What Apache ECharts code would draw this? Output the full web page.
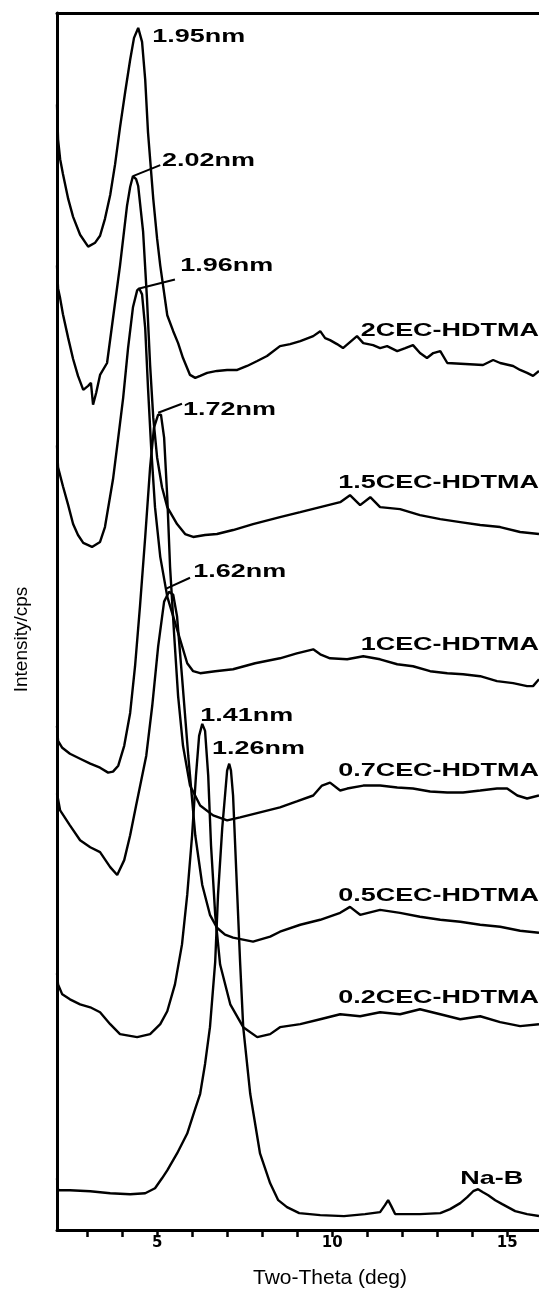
<!DOCTYPE html>
<html><head><meta charset="utf-8">
<script src="https://cdn.jsdelivr.net/npm/echarts@6/dist/echarts.min.js"></script>
<style>html,body{margin:0;padding:0;background:#fff}#c{width:539px;height:1294px}</style>
</head><body><div id="c"></div>
<script>
// x ticks (deg) and labelled ticks
const xTicks = [3,4,5,6,7,8,9,10,11,12,13,14,15];
const xTickLabels = [5,10,15];

// Curves: [two-theta (deg), intensity (a.u., stacked offsets)]
const cec2 = [[2.14,1132],[2.17,1097],[2.23,1077],[2.31,1062],[2.46,1037],[2.60,1019],[2.80,1001],[3.03,989],[3.23,993],[3.37,1000],[3.51,1017],[3.66,1041],[3.80,1072],[3.94,1109],[4.09,1145],[4.23,1177],[4.34,1199],[4.46,1209],[4.57,1195],[4.66,1157],[4.74,1104],[4.89,1037],[5.00,997],[5.09,970],[5.29,920],[5.46,904],[5.60,892],[5.74,877],[5.94,860],[6.09,857],[6.23,859],[6.43,862],[6.71,864],[7.00,865],[7.29,865],[7.57,869],[7.86,874],[8.14,879],[8.51,889],[8.80,891],[9.09,894],[9.46,899],[9.66,904],[9.80,897],[9.94,895],[10.14,891],[10.31,887],[10.51,893],[10.71,899],[10.89,892],[11.17,890],[11.37,887],[11.57,889],[11.86,884],[12.09,887],[12.31,890],[12.51,882],[12.71,877],[12.89,882],[13.09,884],[13.29,872],[14.31,870],[14.60,875],[14.80,872],[15.17,869],[15.37,865],[15.57,862],[15.74,859],[15.91,864]];
const cec15 = [[2.14,970],[2.17,947],[2.23,937],[2.31,921],[2.46,897],[2.60,876],[2.74,859],[2.89,845],[3.03,849],[3.11,852],[3.17,830],[3.26,842],[3.37,860],[3.57,872],[3.74,917],[3.94,970],[4.14,1030],[4.23,1049],[4.31,1060],[4.40,1057],[4.46,1050],[4.60,1004],[4.71,937],[4.80,870],[4.89,817],[5.00,777],[5.14,747],[5.29,727],[5.57,710],[5.80,700],[6.03,697],[6.37,699],[6.71,700],[7.17,704],[7.74,710],[8.51,717],[9.09,722],[9.66,727],[10.23,732],[10.51,739],[10.80,729],[11.09,737],[11.37,727],[11.94,725],[12.51,719],[13.09,715],[13.66,712],[14.23,709],[14.80,707],[15.37,702],[15.91,700]];
const cec1 = [[2.14,789],[2.17,767],[2.31,748],[2.46,729],[2.60,710],[2.74,699],[2.89,691],[3.14,687],[3.37,692],[3.51,707],[3.74,755],[3.89,797],[4.03,837],[4.17,887],[4.31,928],[4.43,945],[4.49,947],[4.57,941],[4.66,907],[4.74,847],[4.83,787],[4.94,727],[5.09,677],[5.29,637],[5.57,604],[5.86,570],[6.03,562],[6.23,560],[6.66,562],[7.17,564],[7.80,570],[8.51,575],[8.99,580],[9.46,584],[9.66,579],[9.94,575],[10.43,574],[10.89,577],[11.37,574],[11.86,569],[12.31,567],[12.80,562],[13.29,560],[13.74,559],[14.23,557],[14.71,552],[15.17,550],[15.57,547],[15.74,547],[15.91,554]];
const cec07 = [[2.14,507],[2.17,492],[2.29,485],[2.51,479],[2.80,474],[3.09,469],[3.37,465],[3.60,460],[3.74,461],[3.89,467],[4.06,487],[4.23,520],[4.37,567],[4.51,627],[4.66,697],[4.80,767],[4.91,807],[5.03,820],[5.11,820],[5.20,797],[5.29,737],[5.37,667],[5.49,597],[5.60,537],[5.74,487],[5.94,447],[6.23,427],[6.60,417],[7.00,412],[7.37,415],[7.94,420],[8.51,425],[8.99,431],[9.46,437],[9.71,447],[9.94,450],[10.23,442],[10.43,444],[10.89,447],[11.37,447],[11.86,445],[12.31,444],[12.80,441],[13.29,440],[13.74,440],[14.23,442],[14.71,444],[15.00,444],[15.29,437],[15.57,434],[15.91,437]];
const cec05 = [[2.14,439],[2.23,422],[2.51,407],[2.80,392],[3.09,385],[3.37,380],[3.66,365],[3.86,357],[4.06,372],[4.23,397],[4.40,427],[4.69,477],[4.86,527],[5.03,587],[5.20,632],[5.34,642],[5.46,639],[5.57,617],[5.71,557],[5.89,477],[6.09,397],[6.29,347],[6.51,317],[6.71,304],[6.94,297],[7.17,294],[7.74,290],[8.23,295],[8.51,300],[9.09,307],[9.66,312],[10.23,319],[10.51,325],[10.80,317],[11.37,322],[11.94,319],[12.51,315],[13.09,312],[13.66,310],[14.23,307],[14.80,305],[15.37,301],[15.91,299]];
const cec02 = [[2.14,258],[2.17,247],[2.29,237],[2.51,232],[2.80,227],[3.09,224],[3.37,219],[3.66,207],[3.94,197],[4.43,194],[4.80,197],[5.09,207],[5.29,220],[5.51,247],[5.71,287],[5.86,337],[6.00,397],[6.11,457],[6.20,497],[6.29,509],[6.37,502],[6.46,457],[6.54,387],[6.66,317],[6.80,267],[7.09,227],[7.46,204],[7.86,194],[8.23,197],[8.51,204],[9.09,207],[9.66,212],[10.23,217],[10.80,215],[11.37,219],[11.94,217],[12.51,222],[13.09,217],[13.66,212],[14.23,215],[14.80,209],[15.37,205],[15.91,207]];
const naB = [[2.14,52],[2.17,40],[2.51,40],[3.09,39],[3.66,37],[4.23,36],[4.66,37],[4.94,42],[5.14,52],[5.29,60],[5.57,77],[5.86,97],[6.09,122],[6.23,137],[6.37,167],[6.51,204],[6.66,270],[6.74,337],[6.86,404],[6.94,437],[7.00,462],[7.06,469],[7.11,462],[7.17,437],[7.29,337],[7.37,270],[7.46,204],[7.66,137],[7.94,77],[8.23,47],[8.46,30],[8.71,23],[9.06,17],[9.66,15],[10.34,14],[10.94,16],[11.37,18],[11.51,25],[11.60,30],[11.69,24],[11.80,16],[12.51,16],[13.09,17],[13.37,21],[13.66,27],[13.86,33],[14.03,39],[14.17,41],[14.31,38],[14.46,35],[14.66,30],[14.86,26],[15.23,19],[15.57,16],[15.91,14]];

// Peak annotations: text, anchor (deg, intensity) at label's left-middle
const peakLabels = [
  {text:'1.95nm', at:[4.86,1200]},
  {text:'2.02nm', at:[5.14,1075]},
  {text:'1.96nm', at:[5.66,970]},
  {text:'1.72nm', at:[5.74,825]},
  {text:'1.62nm', at:[6.03,662]},
  {text:'1.41nm', at:[6.23,517]},
  {text:'1.26nm', at:[6.57,484]},
  {text:'Na-B', at:[13.66,52]}
];
// Leader lines from peak tip to label
const leaders = [
  [[4.31,1060],[5.09,1071]],
  [[4.49,947],[5.51,956]],
  [[5.03,822],[5.71,831]],
  [[5.26,645],[5.94,656]]
];
// Sample names, right-aligned at the right edge
const sampleLabels = [
  {text:'2CEC-HDTMA', at:[15.91,904]},
  {text:'1.5CEC-HDTMA', at:[15.91,752]},
  {text:'1CEC-HDTMA', at:[15.91,589]},
  {text:'0.7CEC-HDTMA', at:[15.91,462]},
  {text:'0.5CEC-HDTMA', at:[15.91,336]},
  {text:'0.2CEC-HDTMA', at:[15.91,234]}
];

const chart = echarts.init(document.getElementById('c'), null, {renderer:'canvas'});
const curve = (name, data, extra) => Object.assign({
  name, type:'line', data, showSymbol:false, symbol:'none', silent:true,
  lineStyle:{color:'#000', width:2.4}, z:3
}, extra || {});
const leaderMark = {
  silent:true, symbol:'none', label:{show:false},
  lineStyle:{color:'#000', width:2, type:'solid'},
  data: leaders.map(l => [{coord:l[0]},{coord:l[1]}])
};
const X_MIN = 2.14, X_MAX = 15.91;
chart.setOption({
  animation:false,
  backgroundColor:'#fff',
  grid:{left:57, top:13, right:0, bottom:57, show:false},
  xAxis:[{
    type:'value', min:X_MIN, max:X_MAX,
    name:'Two-Theta (deg)', nameLocation:'middle', nameGap:38,
    nameTextStyle:{fontFamily:'Liberation Sans', fontSize:21, color:'#000', padding:[0,0,0,64]},
    axisLine:{show:true, onZero:false, lineStyle:{color:'#000', width:3}},
    axisTick:{show:true, customValues:xTicks, length:7, inside:false, lineStyle:{color:'#000', width:2.5}},
    axisLabel:{show:true, customValues:xTickLabels, fontFamily:'DejaVu Sans', fontWeight:'bold', fontSize:15, color:'#000', margin:6},
    splitLine:{show:false}
  },{
    type:'value', position:'top', min:X_MIN, max:X_MAX,
    axisLine:{show:true, onZero:false, lineStyle:{color:'#000', width:3}},
    axisTick:{show:false}, axisLabel:{show:false}, splitLine:{show:false}
  }],
  yAxis:{
    type:'value', min:0, max:1224,
    name:'Intensity/cps', nameLocation:'middle', nameGap:26, nameRotate:90,
    nameTextStyle:{fontFamily:'Liberation Sans', fontSize:19, color:'#000', padding:[0,36,0,0]},
    axisLine:{show:true, lineStyle:{color:'#000', width:3}},
    axisTick:{show:false}, axisLabel:{show:false}, splitLine:{show:false}
  },
  series:[
    curve('2CEC-HDTMA', cec2),
    curve('1.5CEC-HDTMA', cec15, {markLine: leaderMark}),
    curve('1CEC-HDTMA', cec1),
    curve('0.7CEC-HDTMA', cec07),
    curve('0.5CEC-HDTMA', cec05),
    curve('0.2CEC-HDTMA', cec02),
    curve('Na-B', naB)
  ]
});

const textEl = (t, align) => {
  const p = chart.convertToPixel({gridIndex:0}, t.at);
  return {type:'text', x:p[0], y:p[1], scaleX:1.42, z:10, silent:true,
    style:{text:t.text, fontFamily:'Liberation Sans', fontWeight:'bold', fontSize:19, fill:'#000', align:align, verticalAlign:'middle'}};
};
chart.setOption({graphic: peakLabels.map(t => textEl(t,'left')).concat(sampleLabels.map(t => textEl(t,'right')))});
</script>
</body></html>
